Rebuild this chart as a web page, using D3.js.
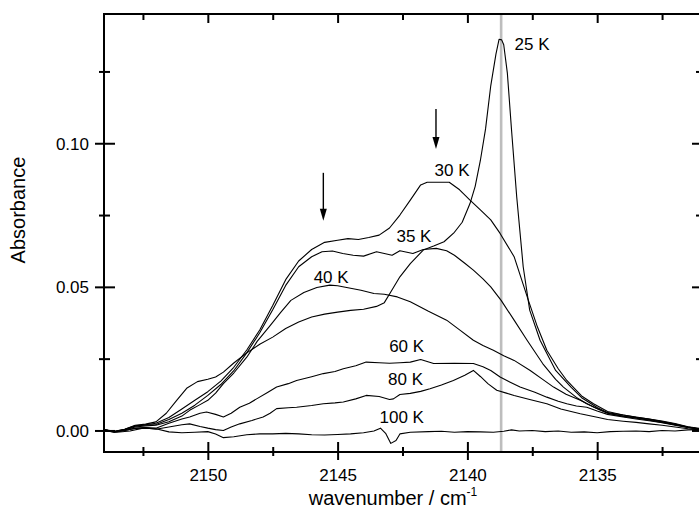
<!DOCTYPE html>
<html>
<head>
<meta charset="utf-8">
<script src="https://cdn.jsdelivr.net/npm/d3@7"></script>
<style>
  body { margin: 0; background: #fff; }
  text { font-family: "Liberation Sans", Arial, sans-serif; fill: #000; }
</style>
</head>
<body>
<div id="chart"></div>
<script>
// ------------------------------------------------------------
// 1. Data: [wavenumber, absorbance]
// ------------------------------------------------------------
const k25 = [[2154.0,0.0002],[2153.6,-0.0004],[2153.2,0.0004],[2152.8,0.0018],[2152.4,0.0022],[2152.0,0.003],
  [2151.6,0.006],[2151.2,0.0105],[2150.8,0.0148],[2150.4,0.017],[2150.0,0.0178],[2149.7,0.0186],[2149.4,0.0203],
  [2149.0,0.0235],[2148.5,0.027],[2148.0,0.030],[2147.5,0.0325],[2147.0,0.0355],[2146.5,0.0378],[2146.0,0.0395],
  [2145.5,0.0405],[2145.0,0.0412],[2144.5,0.0418],[2144.0,0.0422],[2143.5,0.0432],[2143.2,0.0445],[2142.9,0.049],
  [2142.6,0.0535],[2142.2,0.0581],[2141.7,0.0628],[2141.3,0.0642],[2140.9,0.0657],[2140.5,0.069],[2140.2,0.0725],
  [2139.9,0.079],[2139.7,0.085],[2139.5,0.094],[2139.3,0.105],[2139.1,0.12],[2138.9,0.131],[2138.78,0.1362],
  [2138.68,0.136],[2138.6,0.1343],[2138.46,0.1244],[2138.3,0.1047],[2138.1,0.0814],[2137.85,0.057],[2137.6,0.0419],
  [2137.2,0.0314],[2136.6,0.0209],[2136.0,0.015],[2135.6,0.0114],[2135.0,0.008],[2134.6,0.0062],[2134.0,0.0054],
  [2133.5,0.0047],[2133.0,0.004],[2132.5,0.0033],[2132.0,0.0024],[2131.5,0.0013],[2131.0,0.0006]];

const k30 = [[2154.0,0.0003],[2153.6,-0.0003],[2153.2,0.0004],[2152.8,0.0016],[2152.4,0.002],[2152.0,0.0025],
  [2151.5,0.0045],[2151.0,0.0075],[2150.5,0.0105],[2150.0,0.0135],[2149.5,0.0172],[2149.0,0.022],[2148.5,0.028],
  [2148.0,0.035],[2147.5,0.0435],[2147.0,0.0525],[2146.5,0.059],[2146.0,0.063],[2145.5,0.0655],[2145.0,0.0662],
  [2144.6,0.0668],[2144.2,0.0665],[2143.8,0.0672],[2143.4,0.068],[2143.0,0.0705],[2142.6,0.075],[2142.2,0.0802],
  [2141.8,0.0855],[2141.55,0.0864],[2140.7,0.0864],[2140.3,0.0838],[2139.9,0.0802],[2139.5,0.0768],[2139.1,0.0733],
  [2138.74,0.0686],[2138.2,0.0605],[2137.65,0.0453],[2137.3,0.036],[2136.94,0.0279],[2136.5,0.0215],[2136.17,0.0174],
  [2135.6,0.012],[2135.14,0.0093],[2134.6,0.0066],[2134.0,0.0054],[2133.5,0.0046],[2133.0,0.004],[2132.5,0.0031],
  [2132.0,0.0022],[2131.5,0.0012],[2131.0,0.0005]];

const k35 = [[2154.0,0.0],[2153.6,-0.0005],[2153.2,0.0003],[2152.8,0.0015],[2152.4,0.0019],[2152.0,0.0021],
  [2151.5,0.0038],[2151.0,0.006],[2150.5,0.0088],[2150.0,0.0122],[2149.5,0.016],[2149.0,0.0208],[2148.5,0.027],
  [2148.0,0.034],[2147.5,0.042],[2147.0,0.0505],[2146.5,0.057],[2146.0,0.0605],[2145.6,0.0622],[2145.2,0.0625],
  [2144.8,0.0616],[2144.4,0.061],[2144.0,0.0607],[2143.5,0.0622],[2142.9,0.061],[2142.6,0.0626],[2142.1,0.0616],
  [2141.7,0.063],[2141.2,0.0634],[2140.8,0.0626],[2140.5,0.061],[2140.1,0.0582],[2139.77,0.0558],[2139.4,0.0528],
  [2139.1,0.05],[2138.7,0.0453],[2138.2,0.0384],[2137.7,0.0314],[2137.1,0.0233],[2136.6,0.0178],[2136.3,0.0151],
  [2135.8,0.0115],[2135.4,0.0093],[2134.9,0.0072],[2134.5,0.0058],[2134.0,0.005],[2133.5,0.0044],[2133.0,0.0038],
  [2132.5,0.003],[2132.0,0.002],[2131.5,0.0012],[2131.0,0.0004]];

const k40 = [[2154.0,0.0],[2153.6,-0.0006],[2153.2,0.0002],[2152.8,0.0012],[2152.4,0.0016],[2152.0,0.0018],
  [2151.5,0.003],[2151.0,0.005],[2150.7,0.007],[2150.3,0.009],[2150.0,0.0105],[2149.7,0.013],[2149.4,0.0163],
  [2149.0,0.020],[2148.5,0.0255],[2148.1,0.031],[2147.6,0.0365],[2147.2,0.041],[2146.8,0.0453],[2146.3,0.048],
  [2145.8,0.0498],[2145.3,0.0506],[2145.0,0.0504],[2144.6,0.0497],[2144.1,0.0488],[2143.6,0.0477],[2143.2,0.0474],
  [2142.7,0.0465],[2142.2,0.0448],[2141.5,0.0415],[2140.8,0.0384],[2140.3,0.035],[2139.77,0.0314],[2139.4,0.0296],
  [2139.0,0.0279],[2138.6,0.026],[2138.2,0.0244],[2137.58,0.0209],[2137.1,0.0178],[2136.68,0.0151],[2136.2,0.0126],
  [2135.65,0.0105],[2135.1,0.008],[2134.6,0.006],[2134.0,0.0049],[2133.5,0.0043],[2133.0,0.0036],[2132.5,0.0028],
  [2132.0,0.002],[2131.5,0.0011],[2131.0,0.0004]];

const k60 = [[2154.0,0.0],[2153.6,-0.0005],[2153.2,0.0],[2152.8,0.0008],[2152.4,0.001],[2152.0,0.0008],
  [2151.5,0.0025],[2151.0,0.004],[2150.7,0.0047],[2150.3,0.006],[2150.05,0.0064],[2149.7,0.0056],[2149.4,0.0047],
  [2149.1,0.006],[2148.77,0.0081],[2148.4,0.0095],[2148.12,0.011],[2147.7,0.0132],[2147.35,0.0151],[2146.9,0.0163],
  [2146.58,0.0174],[2146.0,0.0187],[2145.55,0.0198],[2145.1,0.0205],[2144.78,0.0215],[2144.3,0.0225],[2143.9,0.0238],
  [2143.4,0.0236],[2143.0,0.0234],[2142.6,0.0236],[2142.2,0.0238],[2141.8,0.0247],[2141.3,0.0233],[2140.5,0.0234],
  [2139.77,0.0233],[2139.4,0.0222],[2139.1,0.0209],[2138.74,0.0186],[2138.35,0.0168],[2137.97,0.0151],[2137.4,0.0133],
  [2136.94,0.0116],[2136.5,0.0102],[2136.17,0.0093],[2135.8,0.0085],[2135.4,0.0081],[2135.0,0.0068],[2134.6,0.0056],
  [2134.0,0.0047],[2133.5,0.004],[2133.0,0.0034],[2132.5,0.0027],[2132.0,0.0018],[2131.5,0.001],[2131.0,0.0003]];

const k80 = [[2154.0,0.0002],[2153.6,-0.0004],[2153.2,0.0],[2152.8,0.0007],[2152.4,0.0009],[2152.0,0.0004],
  [2151.5,0.0012],[2151.0,0.002],[2150.7,0.0023],[2150.3,0.0014],[2150.0,0.0008],[2149.7,0.0003],[2149.4,0.0],
  [2149.1,0.0012],[2148.77,0.0023],[2148.3,0.0035],[2147.87,0.0047],[2147.6,0.006],[2147.35,0.0076],[2146.9,0.0079],
  [2146.58,0.0081],[2146.0,0.0087],[2145.55,0.0093],[2145.1,0.0096],[2144.78,0.0099],[2144.3,0.011],[2143.9,0.0122],
  [2143.4,0.0118],[2143.0,0.0108],[2142.85,0.011],[2142.6,0.0125],[2142.2,0.0129],[2141.8,0.0136],[2141.44,0.0145],
  [2141.0,0.0158],[2140.54,0.0174],[2140.1,0.0192],[2139.77,0.0209],[2139.5,0.0188],[2139.2,0.0162],[2138.87,0.014],
  [2138.5,0.013],[2138.2,0.0122],[2137.6,0.0108],[2136.94,0.0093],[2136.4,0.0075],[2135.65,0.0058],[2135.0,0.0046],
  [2134.6,0.0038],[2134.0,0.0032],[2133.5,0.0028],[2133.0,0.0023],[2132.5,0.0018],[2132.0,0.0012],[2131.5,0.0006],
  [2131.0,0.0002]];

const k100 = [[2154.0,0.0003],[2153.5,-0.0006],[2153.0,-0.0002],[2152.5,0.0008],[2152.0,0.0006],[2151.5,-0.0005],
  [2151.0,-0.0008],[2150.5,-0.0006],[2150.0,-0.0004],[2149.7,-0.0012],[2149.4,-0.0025],[2149.0,-0.0022],
  [2148.5,-0.0015],[2148.0,-0.0012],[2147.5,-0.0012],[2147.0,-0.001],[2146.5,-0.0012],[2146.0,-0.0015],
  [2145.5,-0.0016],[2145.0,-0.0014],[2144.5,-0.0012],[2144.0,-0.0008],[2143.6,-0.0002],[2143.35,0.0008],
  [2143.15,-0.001],[2142.95,-0.0045],[2142.75,-0.0035],[2142.6,-0.0012],[2142.2,-0.0006],[2141.5,-0.0004],
  [2141.0,-0.0003],[2140.5,-0.0006],[2140.0,-0.0004],[2139.5,-0.0005],[2139.0,-0.0006],[2138.6,-0.0003],
  [2138.3,0.0002],[2138.0,-0.0002],[2137.5,0.0],[2137.0,-0.0004],[2136.5,-0.0002],[2136.0,-0.0006],[2135.5,-0.0005],
  [2135.0,-0.0008],[2134.5,-0.0004],[2134.0,-0.0003],[2133.5,-0.0002],[2133.0,-0.0004],[2132.5,0.0],[2132.0,-0.0002],
  [2131.5,0.0002],[2131.0,0.0003]];

const seriesNames = ["25 K", "30 K", "35 K", "40 K", "60 K", "80 K", "100 K"];
const seriesValues = [k25, k30, k35, k40, k60, k80, k100];

// where each label sits, in data units [wavenumber, absorbance]
const labelAnchors = [[2137.51, 0.1325], [2140.59, 0.0886], [2142.06, 0.0657], [2145.25, 0.0512],
  [2142.34, 0.0274], [2142.38, 0.0157], [2142.53, 0.0027]];

// arrows: [wavenumber, absorbance at tail, absorbance at tip]
const arrows = [[2145.55, 0.0897, 0.0730], [2141.21, 0.1119, 0.098]];
const refLine = 2138.7;

const xTicksMajor = [2150, 2145, 2140, 2135];
const xTicksMinor = [2152.5, 2147.5, 2142.5, 2137.5, 2132.5];
const xTickLabels = ["2150", "2145", "2140", "2135"];
const yTicksMajor = [0, 0.05, 0.10];
const yTicksMinor = [0.025, 0.075, 0.125];
const yTickLabels = ["0.00", "0.05", "0.10"];

// ------------------------------------------------------------
// 2. Canvas and scales
// ------------------------------------------------------------
const width = 699;
const height = 521;
const plotLeft = 104, plotRight = 701, plotTop = 14, plotBottom = 452;

const svg = d3.select("#chart")
  .append("svg")
  .attr("width", width)
  .attr("height", height)
  .style("display", "block");

svg.append("rect").attr("width", width).attr("height", height).attr("fill", "#fff");

const x = d3.scaleLinear().domain([2154, 2131]).range([plotLeft, plotRight]);
const y = d3.scaleLinear().domain([-0.0075, 0.145]).range([plotBottom, plotTop]);

// grey reference line (under the curves)
svg.append("line")
  .attr("x1", x(refLine)).attr("x2", x(refLine))
  .attr("y1", plotTop + 1).attr("y2", plotBottom - 1)
  .attr("stroke", "#bdbdbd")
  .attr("stroke-width", 2.6);

// ------------------------------------------------------------
// 3. Curves
// ------------------------------------------------------------
const line = d3.line()
  .x(d => x(d[0]))
  .y(d => y(d[1]));

svg.append("g")
  .selectAll("path")
  .data(seriesValues)
  .join("path")
  .attr("d", line)
  .attr("fill", "none")
  .attr("stroke", "#000")
  .attr("stroke-width", 1.1)
  .attr("stroke-linejoin", "round");

svg.append("g")
  .selectAll("text")
  .data(seriesNames)
  .join("text")
  .attr("x", (d, i) => x(labelAnchors[i][0]))
  .attr("y", (d, i) => y(labelAnchors[i][1]))
  .attr("text-anchor", "middle")
  .attr("font-size", 17)
  .text(d => d);

// arrows
const ag = svg.append("g");
arrows.forEach(a => {
  const ax = x(a[0]), y0 = y(a[1]), y1 = y(a[2]);
  ag.append("line")
    .attr("x1", ax).attr("x2", ax)
    .attr("y1", y0).attr("y2", y1 - 8)
    .attr("stroke", "#000").attr("stroke-width", 1.4);
  ag.append("path")
    .attr("d", `M${ax - 3.5},${y1 - 12}L${ax + 3.5},${y1 - 12}L${ax},${y1}Z`)
    .attr("fill", "#000");
});

// ------------------------------------------------------------
// 4. Frame and axes
// ------------------------------------------------------------
svg.append("rect")
  .attr("x", plotLeft).attr("y", plotTop)
  .attr("width", plotRight - plotLeft).attr("height", plotBottom - plotTop)
  .attr("fill", "none")
  .attr("stroke", "#000")
  .attr("stroke-width", 2);

function styleAxis(g) {
  g.select(".domain").remove();
  g.selectAll(".tick line").attr("stroke", "#000").attr("stroke-width", 2);
  g.selectAll(".tick text")
    .attr("font-family", "Liberation Sans, Arial, sans-serif")
    .attr("font-size", 17)
    .attr("fill", "#000");
}

// bottom
const bMajor = svg.append("g")
  .attr("transform", `translate(0,${plotBottom})`)
  .call(d3.axisBottom(x).tickValues(xTicksMajor).tickFormat((d, i) => xTickLabels[i]).tickSizeInner(8).tickSizeOuter(0))
  .call(styleAxis);
bMajor.selectAll(".tick line").attr("y1", -10);
bMajor.selectAll(".tick text").attr("y", 29).attr("dy", 0);

svg.append("g")
  .attr("transform", `translate(0,${plotBottom})`)
  .call(d3.axisBottom(x).tickValues(xTicksMinor).tickFormat("").tickSizeInner(4).tickSizeOuter(0))
  .call(styleAxis)
  .selectAll(".tick line").attr("y1", -5);

// top (inward only)
svg.append("g")
  .attr("transform", `translate(0,${plotTop})`)
  .call(d3.axisTop(x).tickValues(xTicksMajor).tickFormat("").tickSizeInner(-9).tickSizeOuter(0))
  .call(styleAxis);
svg.append("g")
  .attr("transform", `translate(0,${plotTop})`)
  .call(d3.axisTop(x).tickValues(xTicksMinor).tickFormat("").tickSizeInner(-6).tickSizeOuter(0))
  .call(styleAxis);

// left
const lMajor = svg.append("g")
  .attr("transform", `translate(${plotLeft},0)`)
  .call(d3.axisLeft(y).tickValues(yTicksMajor).tickFormat((d, i) => yTickLabels[i]).tickSizeInner(9).tickSizeOuter(0))
  .call(styleAxis);
lMajor.selectAll(".tick line").attr("x1", 11);
lMajor.selectAll(".tick text").attr("x", -15).attr("dy", "0.36em");

svg.append("g")
  .attr("transform", `translate(${plotLeft},0)`)
  .call(d3.axisLeft(y).tickValues(yTicksMinor).tickFormat("").tickSizeInner(5).tickSizeOuter(0))
  .call(styleAxis)
  .selectAll(".tick line").attr("x1", 6);

// right (inward only, mostly off the canvas edge)
svg.append("g")
  .attr("transform", `translate(${plotRight},0)`)
  .call(d3.axisRight(y).tickValues(yTicksMajor).tickFormat("").tickSizeInner(-9).tickSizeOuter(0))
  .call(styleAxis);
svg.append("g")
  .attr("transform", `translate(${plotRight},0)`)
  .call(d3.axisRight(y).tickValues(yTicksMinor).tickFormat("").tickSizeInner(-5).tickSizeOuter(0))
  .call(styleAxis);

// ------------------------------------------------------------
// 5. Axis titles
// ------------------------------------------------------------
const xTitle = svg.append("text")
  .attr("x", 393)
  .attr("y", 505)
  .attr("text-anchor", "middle")
  .attr("font-size", 20);
xTitle.append("tspan").text("wavenumber / cm");
xTitle.append("tspan").attr("font-size", 12).attr("dy", -9).text("-1");

svg.append("text")
  .attr("transform", "translate(25,210) rotate(-90)")
  .attr("text-anchor", "middle")
  .attr("font-size", 20)
  .text("Absorbance");
</script>
</body>
</html>
